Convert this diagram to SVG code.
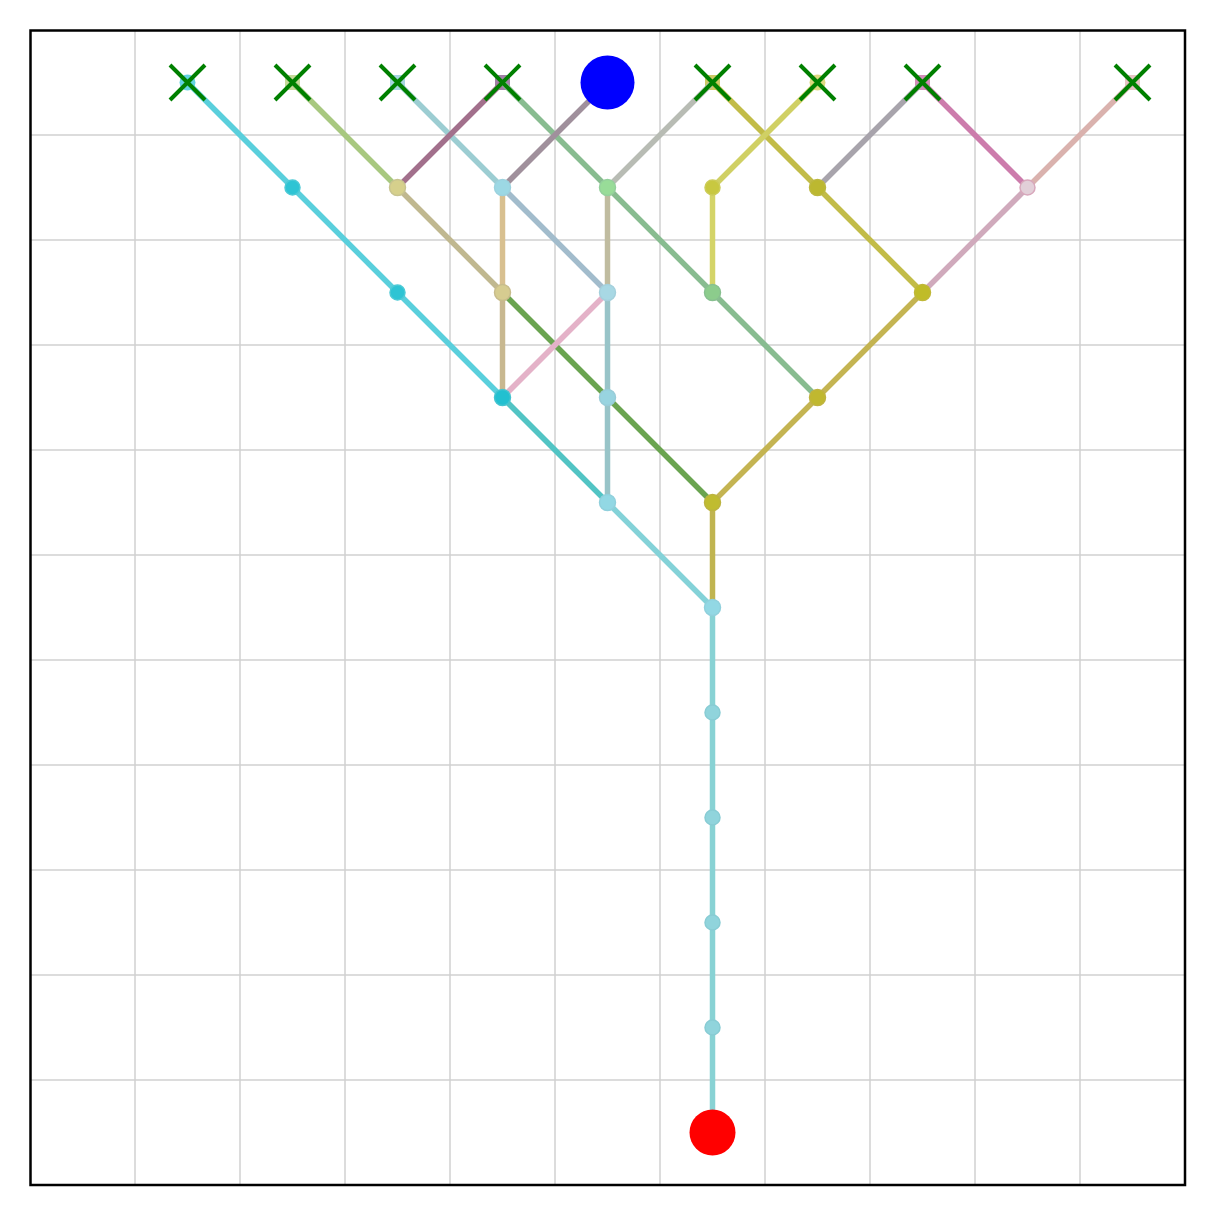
<svg xmlns="http://www.w3.org/2000/svg" width="1215" height="1215" viewBox="0 0 1215 1215">
<style>
.grid line{stroke:#d0d0d0;stroke-width:1.5}
.edges line, .edges polyline{fill:none;stroke-width:5.5;stroke-linecap:butt;stroke-linejoin:round}
.node{stroke-width:1.5}
.x{stroke:#008000;stroke-width:4;fill:none}
.sq{opacity:0.8}
</style>
<rect x="0" y="0" width="1215" height="1215" fill="#ffffff"/>
<g class="grid">
<line x1="135" y1="30" x2="135" y2="1185"/><line x1="240" y1="30" x2="240" y2="1185"/><line x1="345" y1="30" x2="345" y2="1185"/><line x1="450" y1="30" x2="450" y2="1185"/><line x1="555" y1="30" x2="555" y2="1185"/><line x1="660" y1="30" x2="660" y2="1185"/><line x1="765" y1="30" x2="765" y2="1185"/><line x1="870" y1="30" x2="870" y2="1185"/><line x1="975" y1="30" x2="975" y2="1185"/><line x1="1080" y1="30" x2="1080" y2="1185"/>
<line x1="30" y1="135" x2="1185" y2="135"/><line x1="30" y1="240" x2="1185" y2="240"/><line x1="30" y1="345" x2="1185" y2="345"/><line x1="30" y1="450" x2="1185" y2="450"/><line x1="30" y1="555" x2="1185" y2="555"/><line x1="30" y1="660" x2="1185" y2="660"/><line x1="30" y1="765" x2="1185" y2="765"/><line x1="30" y1="870" x2="1185" y2="870"/><line x1="30" y1="975" x2="1185" y2="975"/><line x1="30" y1="1080" x2="1185" y2="1080"/>
</g>
<g id="start-markers">
<circle class="sq" cx="187.5" cy="82.5" r="8" fill="#3cc8d8"/>
<rect class="sq" x="285" y="75" width="15" height="15" fill="#b8d080"/>
<rect class="sq" x="390" y="75" width="15" height="15" fill="#90ccd8"/>
<rect class="sq" x="495" y="75" width="15" height="15" fill="#8a6090"/>
<rect class="sq" x="705" y="75" width="15" height="15" fill="#c0bc40"/>
<circle class="sq" cx="817.5" cy="82.5" r="8" fill="#d4d060"/>
<rect class="sq" x="915" y="75" width="15" height="15" fill="#c870a8"/>
<rect class="sq" x="1125" y="75" width="15" height="15" fill="#e0b4b4"/>
</g>
<g class="edges" id="connectors">
<polyline points="187.5,82.5 292.5,187.5 397.5,292.5 502.5,397.5" stroke="#5acfdc"/>
<line x1="502.5" y1="397.5" x2="607.5" y2="502.5" stroke="#52c4c4"/>
<line x1="607.5" y1="502.5" x2="712.5" y2="607.5" stroke="#84d2d8"/>
<line x1="712.5" y1="607.5" x2="712.5" y2="1132.5" stroke="#88d2d4" stroke-width="6"/>
<line x1="292.5" y1="82.5" x2="397.5" y2="187.5" stroke="#a8c880"/>
<line x1="397.5" y1="187.5" x2="502.5" y2="292.5" stroke="#c0b890"/>
<polyline points="502.5,292.5 607.5,397.5 712.5,502.5" stroke="#6aa450"/>
<line x1="712.5" y1="502.5" x2="712.5" y2="607.5" stroke="#c0b450"/>
<line x1="397.5" y1="82.5" x2="502.5" y2="187.5" stroke="#9ccdd2"/>
<line x1="502.5" y1="187.5" x2="607.5" y2="292.5" stroke="#a2bccc"/>
<line x1="502.5" y1="82.5" x2="397.5" y2="187.5" stroke="#a2708c"/>
<polyline points="502.5,82.5 607.5,187.5 712.5,292.5 817.5,397.5" stroke="#88bc90"/>
<line x1="607.5" y1="82.5" x2="502.5" y2="187.5" stroke="#a0909c"/>
<line x1="712.5" y1="82.5" x2="607.5" y2="187.5" stroke="#b8bcb4"/>
<polyline points="712.5,82.5 817.5,187.5 922.5,292.5" stroke="#c2bc48"/>
<line x1="817.5" y1="82.5" x2="712.5" y2="187.5" stroke="#d0d064"/>
<line x1="712.5" y1="187.5" x2="712.5" y2="292.5" stroke="#d4d468"/>
<line x1="922.5" y1="82.5" x2="817.5" y2="187.5" stroke="#a8a4ac"/>
<line x1="922.5" y1="82.5" x2="1027.5" y2="187.5" stroke="#cc7cac"/>
<line x1="1132.5" y1="82.5" x2="1027.5" y2="187.5" stroke="#dab2ae"/>
<line x1="1027.5" y1="187.5" x2="922.5" y2="292.5" stroke="#d0aabc"/>
<polyline points="922.5,292.5 817.5,397.5 712.5,502.5" stroke="#c4b452"/>
<line x1="502.5" y1="187.5" x2="502.5" y2="292.5" stroke="#d8c090"/>
<line x1="502.5" y1="292.5" x2="502.5" y2="397.5" stroke="#c8b890"/>
<line x1="502.5" y1="397.5" x2="607.5" y2="292.5" stroke="#e4b2c8"/>
<line x1="607.5" y1="187.5" x2="607.5" y2="292.5" stroke="#c0bca0"/>
<line x1="607.5" y1="292.5" x2="607.5" y2="502.5" stroke="#98c4c8"/>
</g>
<g id="nodes">
<circle id="n-2-1" class="node" cx="292.5" cy="187.5" r="7.5" fill="#2ec4d4" stroke="#4ccad6"/>
<circle id="n-3-2" class="node" cx="397.5" cy="292.5" r="7.5" fill="#2ec4d4" stroke="#4ccad6"/>
<circle id="n-4-3" class="node" cx="502.5" cy="397.5" r="8" fill="#22c0d0" stroke="#44c4d0"/>
<circle id="n-3-1" class="node" cx="397.5" cy="187.5" r="8" fill="#d6d08c" stroke="#c8c490"/>
<circle id="n-4-1" class="node" cx="502.5" cy="187.5" r="8" fill="#9cd8e4" stroke="#9cd2de"/>
<circle id="n-5-1" class="node" cx="607.5" cy="187.5" r="8" fill="#98dc98" stroke="#94d09c"/>
<circle id="n-6-1" class="node" cx="712.5" cy="187.5" r="7.5" fill="#c8c840" stroke="#cccc58"/>
<circle id="n-7-1" class="node" cx="817.5" cy="187.5" r="8" fill="#bcb830" stroke="#bcb840"/>
<circle id="n-9-1" class="node" cx="1027.5" cy="187.5" r="7.5" fill="#e2cfd8" stroke="#d8a8bc"/>
<circle id="n-4-2" class="node" cx="502.5" cy="292.5" r="8" fill="#d6cc90" stroke="#c8bc8c"/>
<circle id="n-5-2" class="node" cx="607.5" cy="292.5" r="8" fill="#a8d8e4" stroke="#a4d0dc"/>
<circle id="n-6-2" class="node" cx="712.5" cy="292.5" r="8" fill="#8ccc8c" stroke="#88c090"/>
<circle id="n-8-2" class="node" cx="922.5" cy="292.5" r="8" fill="#c0bc28" stroke="#c0b838"/>
<circle id="n-5-3" class="node" cx="607.5" cy="397.5" r="8" fill="#98d4e0" stroke="#98ccd8"/>
<circle id="n-7-3" class="node" cx="817.5" cy="397.5" r="8" fill="#c0b830" stroke="#c0b440"/>
<circle id="n-6-4" class="node" cx="712.5" cy="502.5" r="8" fill="#c0bc30" stroke="#bcb440"/>
<circle id="n-5-4" class="node" cx="607.5" cy="502.5" r="8" fill="#92d8e4" stroke="#90d0dc"/>
<circle id="n-6-5" class="node" cx="712.5" cy="607.5" r="8" fill="#92d8e4" stroke="#90d0dc"/>
<circle id="n-6-6" class="node" cx="712.5" cy="712.5" r="7.5" fill="#90d4dc" stroke="#88ccd4"/>
<circle id="n-6-7" class="node" cx="712.5" cy="817.5" r="7.5" fill="#90d4dc" stroke="#88ccd4"/>
<circle id="n-6-8" class="node" cx="712.5" cy="922.5" r="7.5" fill="#90d4dc" stroke="#88ccd4"/>
<circle id="n-6-9" class="node" cx="712.5" cy="1027.5" r="7.5" fill="#90d4dc" stroke="#88ccd4"/>
<circle id="goal" cx="712.5" cy="1132.5" r="23" fill="#ff0000"/>
<circle id="start" cx="607.5" cy="82.5" r="27" fill="#0000ff"/>
</g>
<g id="x-markers" class="x">
<path d="M170,65 L205,100 M170,100 L205,65"/>
<path d="M275,65 L310,100 M275,100 L310,65"/>
<path d="M380,65 L415,100 M380,100 L415,65"/>
<path d="M485,65 L520,100 M485,100 L520,65"/>
<path d="M695,65 L730,100 M695,100 L730,65"/>
<path d="M800,65 L835,100 M800,100 L835,65"/>
<path d="M905,65 L940,100 M905,100 L940,65"/>
<path d="M1115,65 L1150,100 M1115,100 L1150,65"/>
</g>
<rect x="30.5" y="30.5" width="1154.5" height="1154.5" fill="none" stroke="#000000" stroke-width="2.5"/>
</svg>
